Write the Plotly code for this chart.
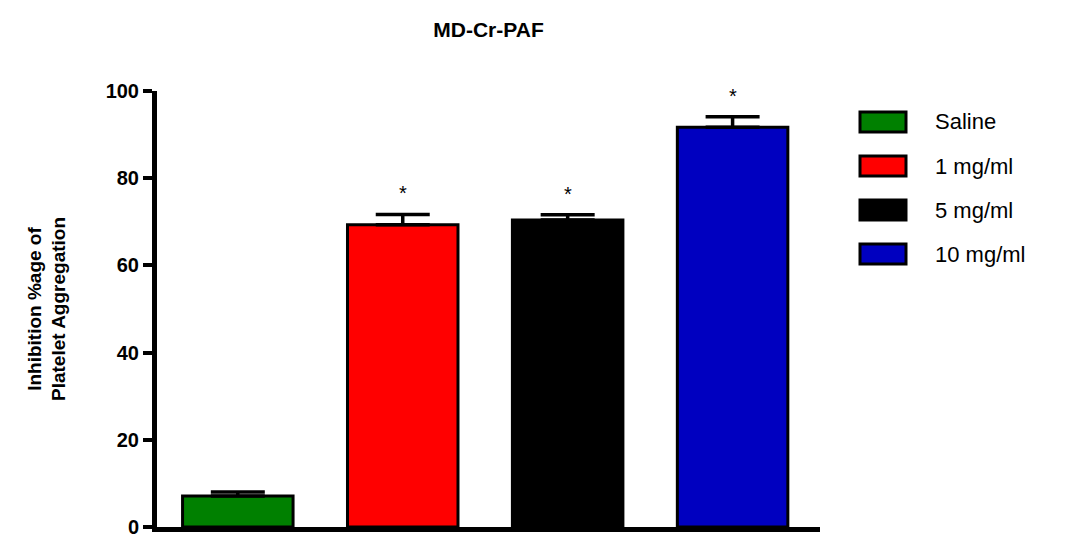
import plotly.graph_objects as go

categories = ["Saline", "1 mg/ml", "5 mg/ml", "10 mg/ml"]
values = [7.1, 69.3, 70.4, 91.7]
errors = [0.9, 2.4, 1.2, 2.4]
colors = ["#008000", "#ff0000", "#000000", "#0000c0"]
stars = ["", "*", "*", "*"]
title_text = "MD-Cr-PAF"
y_title = "Inhibition %age of<br>Platelet Aggregation"
y_ticks = [0, 20, 40, 60, 80, 100]

FONT = "Liberation Sans, Arial, sans-serif"

fig = go.Figure()
for i, (c, v, e, col) in enumerate(zip(categories, values, errors, colors)):
    fig.add_trace(go.Bar(
        x=[i], y=[v], name=c, width=0.67,
        marker=dict(color=col, line=dict(color="black", width=3)),
        error_y=dict(type="data", array=[e], arrayminus=[0], symmetric=False,
                     color="black", thickness=3.5, width=27),
        showlegend=False,
    ))
    if stars[i]:
        fig.add_annotation(x=i, y=v + e, text=stars[i], showarrow=False,
                           yshift=21, font=dict(size=20, color="black", family=FONT))

# legend drawn manually
leg_y0 = 122
for k, (c, col) in enumerate(zip(categories, colors)):
    yc = leg_y0 + 44 * k
    fig.add_shape(type="rect", xref="paper", yref="paper",
                  x0=(860 - 157) / (820 - 157), x1=(906 - 157) / (820 - 157),
                  y0=(527 - (yc - 10)) / (527 - 91), y1=(527 - (yc + 10)) / (527 - 91),
                  fillcolor=col, line=dict(color="black", width=3))
    fig.add_annotation(xref="paper", yref="paper",
                       x=(933 - 157) / (820 - 157), y=(527 - yc) / (527 - 91),
                       text=c, showarrow=False, xanchor="left", yanchor="middle",
                       font=dict(size=22, color="black", family=FONT))

fig.update_layout(
    width=1076, height=537,
    margin=dict(l=157, r=256, t=91, b=10),
    plot_bgcolor="white", paper_bgcolor="white",
    title=dict(text=title_text, x=(157 + 820) / 2 / 1076, xanchor="center",
               y=1 - 30 / 537, yanchor="middle",
               font=dict(size=21, color="black", family=FONT, weight="bold")),
    font=dict(family=FONT, color="black"),
    bargap=0.3,
)
fig.update_xaxes(range=[-0.49, 3.53], showticklabels=False, ticks="",
                 showline=True, linecolor="black", linewidth=5, showgrid=False,
                 zeroline=False, automargin=False)
fig.update_yaxes(range=[0, 100], tickvals=y_ticks,
                 ticks="outside", ticklen=9, tickwidth=4, tickcolor="black",
                 showline=True, linecolor="black", linewidth=5, showgrid=False,
                 zeroline=False, ticklabeloverflow="allow", automargin=False,
                 tickfont=dict(size=20, family=FONT, weight="bold"),
                 title=dict(text=y_title, standoff=36,
                            font=dict(size=19, family=FONT, weight="bold")))

fig.write_html("out.html", config={"displayModeBar": False},
               post_script="document.body.style.margin='0';")
